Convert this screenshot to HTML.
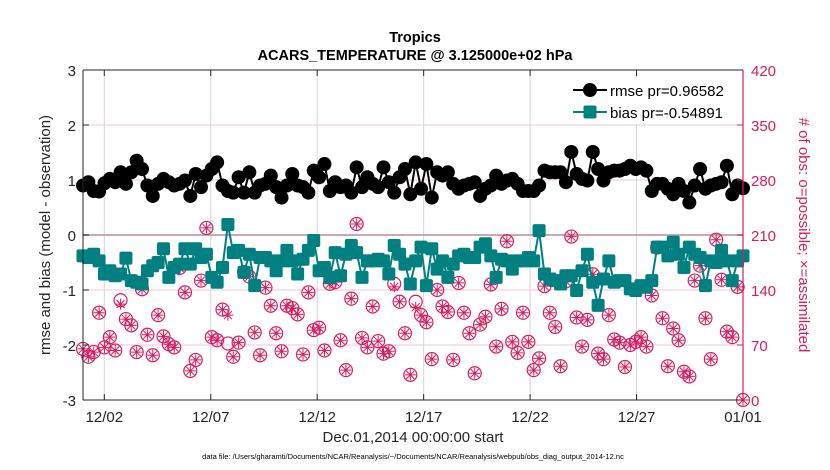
<!DOCTYPE html>
<html><head><meta charset="utf-8">
<style>
html,body{margin:0;padding:0;background:#fff;}
svg{display:block;font-family:"Liberation Sans",Arial,sans-serif;}
</style></head>
<body>
<svg id="chart" width="830" height="470" viewBox="0 0 830 470" xmlns="http://www.w3.org/2000/svg">
<rect width="830" height="470" fill="#fff"/>
<g id="grid"></g>
<g id="obs"></g>
<g id="bias"></g>
<g id="rmse"></g>
<g id="axes"></g>
<text x="415" y="42" text-anchor="middle" font-size="14.5" font-weight="bold" fill="#000">Tropics</text>
<text x="415" y="60" text-anchor="middle" font-size="14.5" font-weight="bold" fill="#000">ACARS_TEMPERATURE @ 3.125000e+02 hPa</text>
<text transform="translate(50,235) rotate(-90)" text-anchor="middle" font-size="15" fill="#262626">rmse and bias (model - observation)</text>
<text transform="translate(799,235) rotate(90)" text-anchor="middle" font-size="15" fill="#d81b60"># of obs: o=possible; ×=assimilated</text>
<text x="413" y="442" text-anchor="middle" font-size="15" fill="#262626">Dec.01,2014 00:00:00 start</text>
<text x="413" y="459" text-anchor="middle" font-size="7.5" fill="#000">data file: /Users/gharamti/Documents/NCAR/Reanalysis/~/Documents/NCAR/Reanalysis/webpub/obs_diag_output_2014-12.nc</text>
<g id="legend">
<rect x="568" y="78" width="172" height="46" fill="#fff"/>
<line x1="573" y1="90" x2="607" y2="90" stroke="#000" stroke-width="2"/>
<circle cx="590" cy="90" r="7" fill="#000"/>
<text x="610" y="96" font-size="15" fill="#000">rmse pr=0.96582</text>
<line x1="573" y1="112" x2="607" y2="112" stroke="#008080" stroke-width="2"/>
<rect x="583.5" y="105.5" width="13" height="13" rx="2" fill="#008080"/>
<text x="610" y="118" font-size="15" fill="#000">bias pr=-0.54891</text>
</g>
</svg>
<script>
const rmseVals=[0.9,0.96,0.8,0.79,0.94,1.02,0.96,1.14,0.93,1.14,1.35,1.2,0.9,0.71,0.93,1.02,0.96,0.9,0.93,0.99,0.71,1.11,0.87,1.08,1.2,1.32,0.9,0.8,0.77,1.05,0.77,1.14,0.77,0.9,0.93,1.08,0.87,0.68,0.9,1.11,0.9,0.87,0.77,1.17,1.05,1.29,0.8,0.96,0.87,0.9,0.77,1.23,0.87,1.05,0.93,0.87,1.23,0.96,0.77,1.05,1.2,0.74,1.32,0.84,1.29,0.68,1.14,1.08,1.14,0.93,0.84,0.9,0.93,0.96,0.71,0.84,0.9,1.08,0.93,0.99,1.02,0.93,0.8,0.8,0.8,0.9,1.17,1.14,1.14,1.14,0.96,1.51,1.11,1.02,0.99,1.51,1.2,0.99,1.14,1.17,1.17,1.2,1.26,1.2,1.23,1.17,0.8,0.93,0.93,0.84,0.74,0.93,0.8,0.59,0.9,1.2,0.84,0.9,0.93,0.96,1.26,0.74,0.9,0.85];
const biasVals=[-0.38,-0.41,-0.35,-0.47,-0.71,-0.65,-0.74,-0.71,-0.42,-0.83,-0.86,-0.89,-0.65,-0.56,-0.5,-0.25,-0.77,-0.59,-0.53,-0.25,-0.53,-0.25,-0.41,-0.35,-0.77,-0.86,-0.59,0.19,-0.32,-0.28,-0.68,-0.35,-0.92,-0.41,-0.41,-0.47,-0.65,-0.47,-0.28,-0.47,-0.71,-0.44,-0.28,-0.1,-0.65,-0.59,-0.77,-0.32,-0.74,-0.35,-0.19,-0.32,-0.77,-0.47,-0.47,-0.44,-0.47,-0.71,-0.19,-0.35,-0.53,-0.89,-0.47,-0.22,-0.92,-0.25,-0.62,-0.47,-0.77,-0.53,-0.38,-0.35,-0.41,-0.41,-0.22,-0.16,-0.38,-0.77,-0.44,-0.47,-0.62,-0.47,-0.47,-0.41,-0.47,0.08,-0.71,-0.8,-0.83,-0.89,-0.74,-0.74,-1.01,-0.65,-0.35,-0.86,-1.28,-0.8,-0.47,-0.86,-0.83,-0.83,-0.98,-1.01,-0.92,-0.95,-0.83,-0.22,-0.22,-0.38,-0.13,-0.35,-0.59,-0.22,-0.35,-0.41,-0.92,-0.47,-0.5,-0.28,-0.47,-0.83,-0.47,-0.38];
const obsPossible=[65,55,61,111,67,80,63,127,103,95,61,141,83,57,108,81,71,67,168,137,37,51,152,219,80,76,115,72,55,73,163,157,86,57,143,120,85,62,120,117,109,58,137,89,92,63,148,150,76,38,129,224,79,67,119,75,59,62,148,125,85,32,125,108,99,52,140,119,112,51,149,111,85,34,96,106,147,68,116,202,74,60,111,74,38,53,145,111,93,43,151,208,105,68,102,160,59,52,108,77,73,42,70,74,80,68,133,194,104,43,91,76,36,30,152,171,104,52,204,153,87,80,144,0];
const obsAssim=obsPossible.slice();
obsAssim[7]=122; obsAssim[27]=108; obsAssim[58]=144; obsAssim[62]=118;
const leftTicks=[3,2,1,0,-1,-2,-3];
const rightTicks=[420,350,280,210,140,70,0];
const xTickDays=[1,6,11,16,21,26,31];
const xTickLabels=["12/02","12/07","12/12","12/17","12/22","12/27","01/01"];
const NS="http://www.w3.org/2000/svg";
const L=83,R=743,T=70,B=400;
const xS=d=>L+(d/31)*(R-L);
const yL=v=>B-(v+3)/6*(B-T);
const yR=c=>B-c/420*(B-T);
function mk(tag,attrs,parent){const e=document.createElementNS(NS,tag);for(const k in attrs)e.setAttribute(k,attrs[k]);parent.appendChild(e);return e;}
const grid=document.getElementById('grid'),axes=document.getElementById('axes');
xTickDays.forEach((d,i)=>{
  const g=mk('line',{x1:xS(d),x2:xS(d),y1:T,y2:B,stroke:'#d6d6d6','stroke-width':1},grid);
  
  
  const t=mk('text',{x:xS(d),y:B+22,'text-anchor':'middle','font-size':15,fill:'#262626'},axes);
  t.textContent=xTickLabels[i];
  
  
  mk('line',{x1:xS(d),x2:xS(d),y1:B,y2:B-6,stroke:'#262626','stroke-width':1},axes);
  mk('line',{x1:xS(d),x2:xS(d),y1:T,y2:T+6,stroke:'#262626','stroke-width':1},axes);
});
rightTicks.forEach(c=>{
  if(c>0&&c<420){
    const g=mk('line',{x1:L,x2:R,y1:yR(c),y2:yR(c),stroke:c===210?'#c9a9b5':'#f3c6d6','stroke-width':c===210?2:1},grid);
    
    
  }
  const t=mk('text',{x:R+8,y:yR(c)+6,'font-size':15,fill:'#d81b60'},axes);
  t.textContent=c;
  
  
  mk('line',{x1:R,x2:R-6,y1:yR(c),y2:yR(c),stroke:'#d81b60','stroke-width':1},axes);
});
leftTicks.forEach(v=>{
  const t=mk('text',{x:L-7,y:yL(v)+6,'text-anchor':'end','font-size':15,fill:'#262626'},axes);
  t.textContent=v;
  
  
  mk('line',{x1:L,x2:L+6,y1:yL(v),y2:yL(v),stroke:'#262626','stroke-width':1},axes);
});
mk('line',{x1:L,x2:L,y1:T,y2:B,stroke:'#262626','stroke-width':1},axes);
mk('line',{x1:L,x2:R,y1:B,y2:B,stroke:'#262626','stroke-width':1},axes);
mk('line',{x1:L,x2:R,y1:T,y2:T,stroke:'#262626','stroke-width':1},axes);
mk('line',{x1:R,x2:R,y1:T,y2:B,stroke:'#d81b60','stroke-width':1.2},axes);
const dayOf=(i,n)=>i*31/(n-1);
const og=document.getElementById('obs');
obsPossible.forEach((c,i)=>{
  const x=xS(dayOf(i,obsPossible.length)),y=yR(c);
  const ci=mk('circle',{cx:x,cy:y,r:6.5,fill:'none',stroke:'#d81b60','stroke-width':1.2},og);
  
  
  const ya=yR(obsAssim[i]);
  const s=mk('path',{d:`M${x-5.5},${ya}H${x+5.5}M${x},${ya-5.5}V${ya+5.5}M${x-4},${ya-4}L${x+4},${ya+4}M${x-4},${ya+4}L${x+4},${ya-4}`,stroke:'#d81b60','stroke-width':1,fill:'none'},og);
  
  
});
function series(vals,gid,color,shape){
  const g=document.getElementById(gid);
  const pts=vals.map((v,i)=>[xS(dayOf(i,vals.length)),yL(v)]);
  const pl=mk('polyline',{points:pts.map(p=>p.join(',')).join(' '),fill:'none',stroke:color,'stroke-width':2},g);
  
  
  pts.forEach(p=>{
    let m;
    if(shape==='circle') m=mk('circle',{cx:p[0],cy:p[1],r:7,fill:color},g);
    else m=mk('rect',{x:p[0]-6.5,y:p[1]-6.5,width:13,height:13,rx:2,fill:color},g);
    
    
  });
}
series(biasVals,'bias','#008080','square');
series(rmseVals,'rmse','#000','circle');
</script>
</body></html>
